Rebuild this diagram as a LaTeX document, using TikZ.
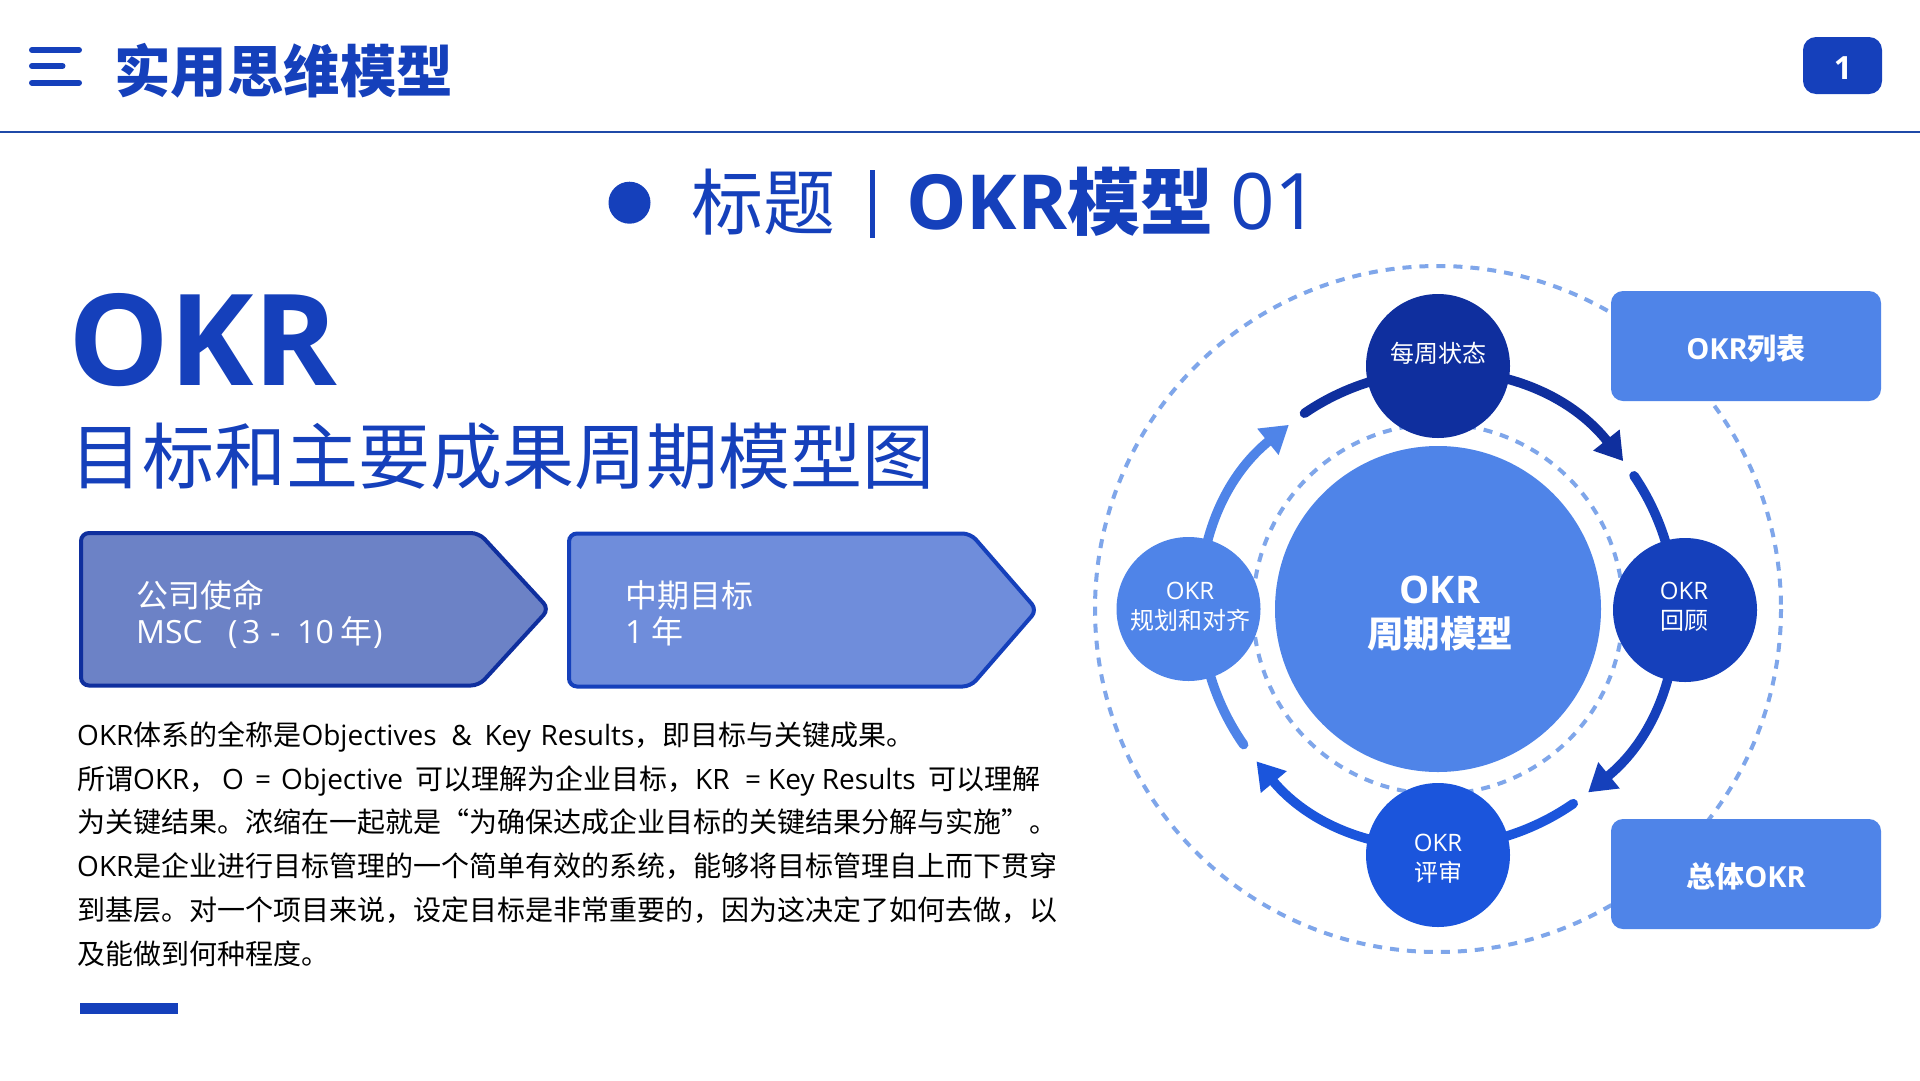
\documentclass[tikz,border=0pt]{standalone}
\usepackage{fontspec}
\setmainfont{Open Sans}
\newfontfamily\cjk{Noto Sans CJK SC}
\newcommand{\Cn}[1]{{\cjk #1}}
\newcommand{\fs}[1]{\fontsize{#1pt}{#1pt}\selectfont}
\newcommand{\Wb}[2]{\makebox[#1pt][l]{#2}}
\usetikzlibrary{arrows.meta}
\definecolor{navy}{HTML}{0F2F9E}
\definecolor{deep}{HTML}{1540BB}
\definecolor{royal}{HTML}{1B55DC}
\definecolor{sky}{HTML}{4F84E8}
\definecolor{dashc}{HTML}{7FA6EA}
\definecolor{rulec}{HTML}{1F4AA8}
\definecolor{pentaA}{HTML}{6C82C6}
\definecolor{pentaB}{HTML}{6F8DDB}
\tikzset{
  ring/.style={draw=dashc,line width=4pt,dash pattern=on 9pt off 8pt},
  cyc/.style={line width=9.5pt,line cap=round,-{Triangle[length=27pt,width=32pt]}},
  ball/.style={circle,minimum size=144pt,inner sep=0pt},
  lab/.style={text=white,anchor=base,inner sep=0pt},
  boxed/.style={fill=sky,rounded corners=12pt,minimum width=270pt,minimum height=110pt,inner sep=0pt},
  bodyline/.style={text=black,anchor=base west,inner sep=0pt,font=\fs{28}},
  penta/.style={line width=4pt,rounded corners=8pt},
  head/.style={text=deep,anchor=base west,inner sep=0pt},
}
\begin{document}
\begin{tikzpicture}[x=1pt,y=1pt,yscale=-1]
\useasboundingbox (0,0) rectangle (1920,1080);
\fill[white] (0,0) rectangle (1920,1080);
% header
\foreach \yy/\xe in {50/79,66/62.5,82.7/79}
  \draw[deep,line width=6pt,line cap=round] (32,\yy) -- (\xe,\yy);
\node[head,font=\fs{56.5}] (hd) at (114,92) {\Cn{\bfseries 实用思维模型}};
\draw[rulec,line width=2.2pt] (0,131.7) -- (1920,131.7);
\node[fill=deep,rounded corners=13pt,minimum width=79pt,minimum height=57pt,inner sep=0pt] (badge) at (1842.5,65.5) {};
\node[lab,font=\fs{32}\bfseries] (num) at (1843,79.3) {1};
% subtitle
\fill[deep] (629.5,202.7) circle (21);
\node[head,font=\fs{72}] (t1) at (691,229) {\Cn{标题}};
\fill[deep] (869.6,170) rectangle (874.6,237.7);
\node[head,font=\fs{76}\bfseries] (t2) at (906,229) {OKR\fs{73}\Cn{\bfseries 模型}};
\node[head,font=\fs{78}] (t3) at (1230,229) {01};
% left
\node[head,font=\fs{127}\bfseries] (okr) at (68,385) {OKR};
\node[head,font=\fs{72}] (sub) at (70,483) {\Cn{目标和主要成果周期模型图}};
\draw[penta,draw=navy,fill=pentaA] (81,533) -- (479,533) -- (549,609) -- (479,685.5) -- (81,685.5) -- cycle;
\draw[penta,draw=deep,fill=pentaB] (569,533.5) -- (970.6,533.5) -- (1037,610) -- (970.6,686.5) -- (569,686.5) -- cycle;
\node[lab,anchor=base west,font=\fs{32}] (p1a) at (136,607) {\Cn{公司使命}};
\node[lab,anchor=base west,font=\fs{32}] (p1b) at (136,643.5) {\Wb{92}{MSC}\Wb{14}{(}\Wb{28}{3}\Wb{27}{-}\Wb{43}{10}\Wb{33}{\Cn{年}})};
\node[lab,anchor=base west,font=\fs{32}] (p2a) at (625,607) {\Cn{中期目标}};
\node[lab,anchor=base west,font=\fs{32}] (p2b) at (625,643.5) {1 \Cn{年}};
\node[bodyline] (b1) at (77,745) {OKR\Cn{体系的全称是}\Wb{150}{Objectives}\Wb{33}{\&}\Wb{56}{Key}\Wb{94}{Results}\Cn{，即目标与关键成果。}};
\node[bodyline] (b2) at (77,789) {\Wb{145}{\Cn{所谓}OKR\Cn{，}}\Wb{33}{O}\Wb{26}{=}\Wb{134}{Objective}\Cn{可以理解为企业目标，}\Wb{50}{KR}\Wb{23}{=}\Wb{160}{Key Results}\Cn{可以理解}};
\node[bodyline] (b3) at (77,832) {\Cn{为关键结果。浓缩在一起就是“为确保达成企业目标的关键结果分解与实施”。}};
\node[bodyline] (b4) at (77,876) {OKR\Cn{是企业进行目标管理的一个简单有效的系统，能够将目标管理自上而下贯穿}};
\node[bodyline] (b5) at (77,920) {\Cn{到基层。对一个项目来说，设定目标是非常重要的，因为这决定了如何去做，以}};
\node[bodyline] (b6) at (77,964) {\Cn{及能做到何种程度。}};
\fill[deep] (79.6,1003) rectangle (177.5,1014);
% cycle
\coordinate (cen) at (1438,609);
\draw[ring] (cen) circle (343);
\draw[ring] (cen) circle (185);
\coordinate (a1) at ([shift={(-124.3:237pt)}]cen);
\coordinate (a2) at ([shift={(-34.2:237pt)}]cen);
\coordinate (a3) at ([shift={(55.2:237pt)}]cen);
\coordinate (a4) at ([shift={(145.1:237pt)}]cen);
\draw[cyc,navy] (a1) arc[start angle=-124.3,end angle=-38.6,radius=237];
\draw[cyc,deep] (a2) arc[start angle=-34.2,end angle=50.7,radius=237];
\draw[cyc,royal] (a3) arc[start angle=55.2,end angle=140,radius=237];
\draw[cyc,sky] (a4) arc[start angle=145.1,end angle=231,radius=237];
\node[circle,minimum size=326pt,inner sep=0pt,fill=sky] (core) at (cen) {};
\node[ball,fill=navy] (top) at (1438,366) {};
\node[ball,fill=deep] (right) at (1685,610) {};
\node[ball,fill=royal] (bottom) at (1438,855) {};
\node[ball,fill=sky] (left) at (1188.5,609) {};
\node[boxed] (b1x) at (1746,346) {};
\node[boxed] (b2x) at (1746,874) {};
\node[lab,font=\fs{38}\bfseries] (c1) at (1440,603) {OKR};
\node[lab,font=\fs{36.5}] (c2) at (1440,647) {\Cn{\bfseries 周期模型}};
\node[lab,font=\fs{24}] (n1) at (1438,362) {\Cn{每周状态}};
\node[lab,font=\fs{24}] (n2a) at (1684,599) {OKR};
\node[lab,font=\fs{24}] (n2b) at (1684,629) {\Cn{回顾}};
\node[lab,font=\fs{24}] (n3a) at (1438,851) {OKR};
\node[lab,font=\fs{24}] (n3b) at (1438,881) {\Cn{评审}};
\node[lab,font=\fs{24}] (n4a) at (1190,599) {OKR};
\node[lab,font=\fs{24}] (n4b) at (1190,629) {\Cn{规划和对齐}};
\node[lab,font=\fs{29}\bfseries] (x1) at (1746,359) {OKR\Cn{\bfseries 列表}};
\node[lab,font=\fs{29}\bfseries] (x2) at (1746,887) {\Cn{\bfseries 总体}OKR};
\end{tikzpicture}
\end{document}
